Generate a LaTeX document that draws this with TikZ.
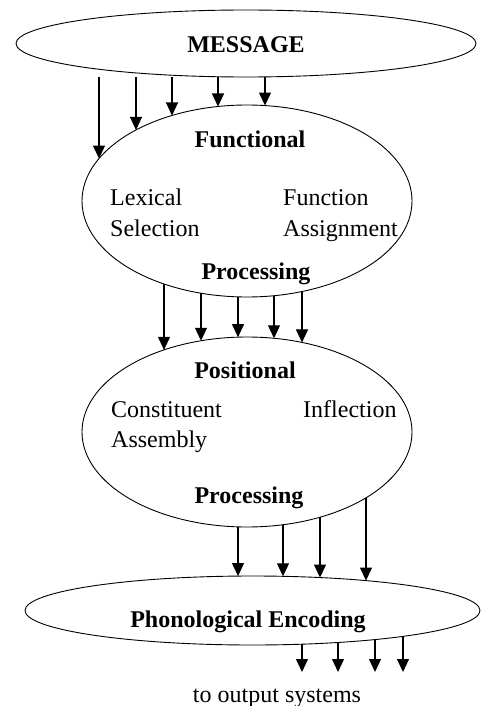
\documentclass[tikz,border=0pt]{standalone}
\usepackage{fontspec}
\setmainfont{Liberation Serif}
\usetikzlibrary{shapes.geometric,arrows.meta,calc}
\makeatletter
\pgfmathdeclarefunction{ebd}{3}{%
  \begingroup
  \pgfmathparse{#2*sqrt(max(0,1-(#1/#3)*(#1/#3)))}%
  \pgfmath@smuggleone\pgfmathresult
  \endgroup}
\makeatother
\begin{document}
\begin{tikzpicture}[x=1pt,y=-1pt,
  ell/.style={draw, ellipse, line width=0.9pt, inner sep=0pt, outer sep=0pt},
  arr/.style={line width=1.1pt, -{Triangle[length=13pt,width=12pt]}},
  txt/.style={font=\fontsize{24}{29}\selectfont, inner sep=0pt},
  btxt/.style={font=\fontsize{24}{29}\selectfont\bfseries, inner sep=0pt}]
\useasboundingbox (0,0) rectangle (481,706);
% ellipses
\node[ell, minimum width=460pt, minimum height=67pt] (msg) at (246,43.5) {};
\node[ell, minimum width=330pt, minimum height=192pt] (fn) at (247,201) {};
\node[ell, minimum width=330pt, minimum height=190pt] (pos) at (247,432) {};
\node[ell, minimum width=455pt, minimum height=69pt] (ph) at (252.5,610.5) {};
% texts
\node[btxt, anchor=base] (tmsg) at (246,53) {MESSAGE};
\node[btxt, anchor=base] (tfn) at (250,147) {Functional};
\node[txt, anchor=base west] (tlex1) at (110,205) {Lexical};
\node[txt, anchor=base west] (tlex2) at (110,236) {Selection};
\node[txt, anchor=base west] (tfa1) at (283,205) {Function};
\node[txt, anchor=base west] (tfa2) at (283,236) {Assignment};
\node[btxt, anchor=base] (tfp) at (256,279) {Processing};
\node[btxt, anchor=base] (tpos) at (245,378) {Positional};
\node[txt, anchor=base west] (tca1) at (111,417) {Constituent};
\node[txt, anchor=base west] (tca2) at (111,447) {Assembly};
\node[txt, anchor=base west] (tinf) at (303,417) {Inflection};
\node[btxt, anchor=base] (tpp) at (249,503) {Processing};
\node[btxt, anchor=base] (tph) at (248,627) {Phonological Encoding};
\node[txt, anchor=base] (tout) at (277,702) {to output systems};
% message -> functional
\foreach \d in {-148,-111,-75,-29,18}
  \draw[arr] ($(fn.center |- msg.south)+(\d,0)$) -- ($(fn.center)+(\d,{-ebd(\d,96,165)})$);
% functional -> positional
\foreach \d in {-83,-46,-9,27,55}
  \draw[arr] ($(fn.center)+(\d,{ebd(\d,96,165)})$) -- ($(pos.center)+(\d,{-ebd(\d,95,165)})$);
% positional -> phonological
\foreach \d in {-9,36,73,119}
  \draw[arr] ($(pos.center)+(\d,{ebd(\d,95,165)})$) -- ($(pos.center |- ph.center)+(\d,{-ebd(\d-5.5,34.5,227.5)})$);
% phonological -> output
\foreach \d [count=\i] in {49.5,85.5,122.5,150.5} {
  \coordinate (o\i) at ($(ph.center)+(\d,61.5)$);
  \draw[arr] ($(ph.center)+(\d,{ebd(\d,34.5,227.5)})$) -- (o\i);
}
\end{tikzpicture}
\end{document}
